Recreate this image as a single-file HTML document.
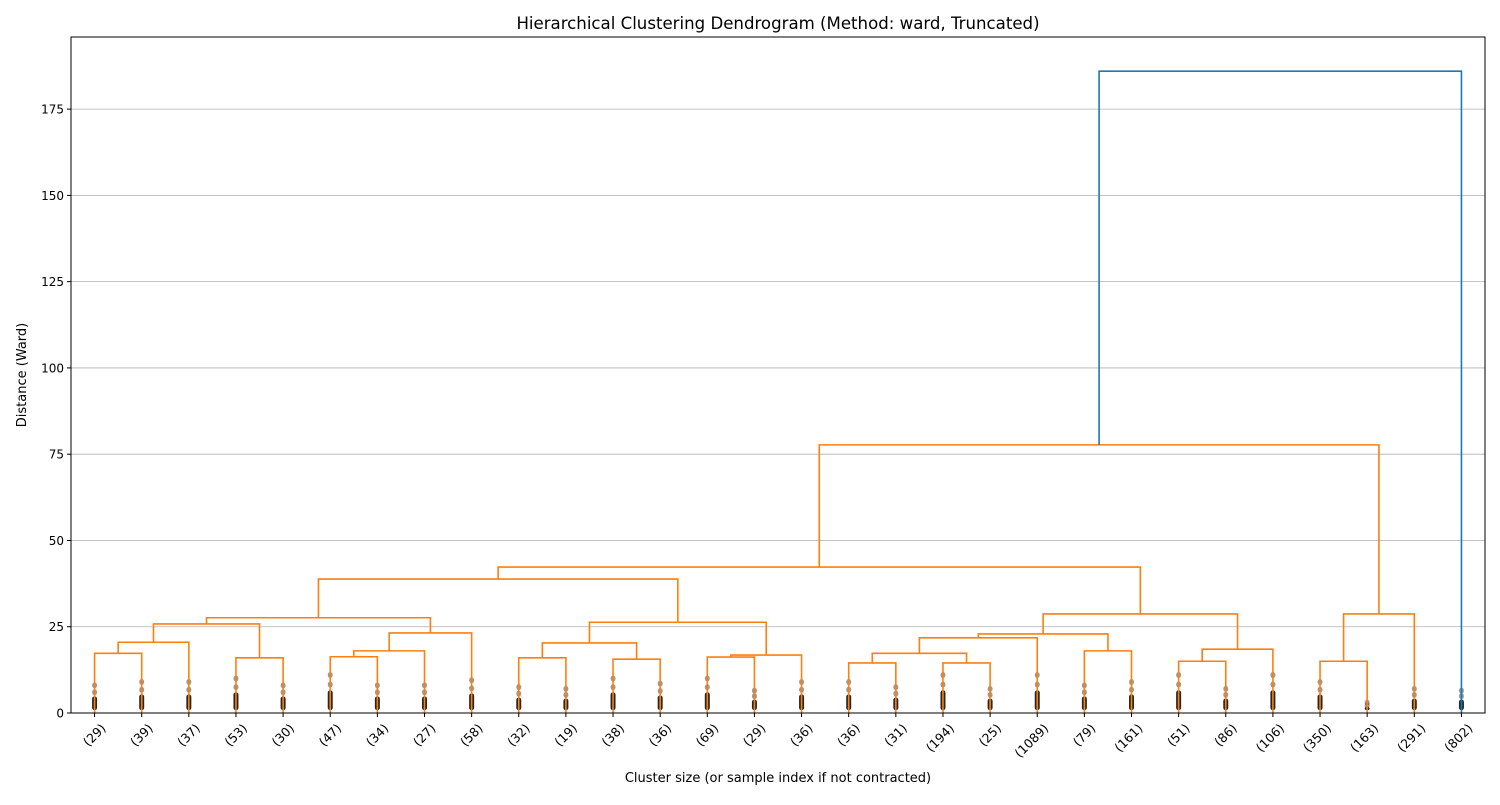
<!DOCTYPE html>
<html><head><meta charset="utf-8"><style>
body{margin:0;background:#fff;font-family:"Liberation Sans","DejaVu Sans",sans-serif;}
svg text{font-family:"DejaVu Sans","Liberation Sans",sans-serif;}
</style></head><body>
<svg id="chart" width="1500" height="800" xmlns="http://www.w3.org/2000/svg">
<text x="778" y="29" font-size="16.6" text-anchor="middle">Hierarchical Clustering Dendrogram (Method: ward, Truncated)</text>
<text x="778" y="782" font-size="13" text-anchor="middle">Cluster size (or sample index if not contracted)</text>
<text transform="translate(26,375) rotate(-90)" font-size="13" text-anchor="middle">Distance (Ward)</text>
<g id="grid"></g><g id="leafmarks"></g><g id="marks"></g><g id="axes"></g>
</svg>
<script>
const leafLabels=["(29)","(39)","(37)","(53)","(30)","(47)","(34)","(27)","(58)","(32)","(19)","(38)","(36)","(69)","(29)","(36)","(36)","(31)","(194)","(25)","(1089)","(79)","(161)","(51)","(86)","(106)","(350)","(163)","(291)","(802)"];
const leafMarkerMax=[8,9,9,10,8,11,8,8,9.5,7.5,7,10,8.5,10,6.5,9,9,7.5,11,7,11,8,9,11,7,11,9,3,7,6.5];
const mergeLeft=[0,30,3,31,5,34,35,33,9,11,38,13,41,40,37,16,18,45,47,21,48,23,51,50,44,26,55,54,57];
const mergeRight=[1,2,4,32,6,7,8,36,10,12,39,14,15,42,43,17,19,46,20,22,49,24,25,52,53,27,28,56,29];
const mergeHeight=[17.3,20.5,16.0,25.8,16.3,18.0,23.2,27.6,16.0,15.6,20.3,16.2,16.8,26.3,38.8,14.5,14.5,17.3,21.8,18.0,22.9,15.0,18.5,28.7,42.3,15.0,28.7,77.7,186.0];
const yTicks=[0,25,50,75,100,125,150,175];

const L=71,R=1485,T=37,B=713,YMAX=195.9;
const NS="http://www.w3.org/2000/svg";
const n=leafLabels.length;
const xs=i=>L+(10*i+5)*(R-L)/(10*n);
const ys=v=>B-v*(B-T)/YMAX;
function mk(tag,attrs,parent){const e=document.createElementNS(NS,tag);for(const k in attrs)e.setAttribute(k,attrs[k]);parent.appendChild(e);return e;}
const grid=document.getElementById('grid'),marks=document.getElementById('marks'),axes=document.getElementById('axes'),lm=document.getElementById('leafmarks');
yTicks.forEach(t=>{
 const g=mk('line',{x1:L,x2:R,y1:ys(t),y2:ys(t),stroke:'#b0b0b0','stroke-width':0.8},grid);
 
 
 const tk=mk('line',{x1:L-4,x2:L,y1:ys(t),y2:ys(t),stroke:'#000'},axes);
 
 
 const tx=mk('text',{x:L-7,y:ys(t)+4.5,'font-size':12,'text-anchor':'end'},axes);
 tx.textContent=t;
 
 
});
const nx=[],nh=[];
for(let i=0;i<n;i++){nx.push(xs(i));nh.push(0);}
const last=mergeLeft.length-1;
mergeLeft.forEach((a,k)=>{
 const b=mergeRight[k],h=mergeHeight[k];
 const col=(k===last)?'#1f77b4':'#ff7f0e';
 const p=mk('path',{d:`M${nx[a]},${ys(nh[a])}V${ys(h)}H${nx[b]}V${ys(nh[b])}`,fill:'none',stroke:col,'stroke-width':1.6},marks);
 
 
 nx.push((nx[a]+nx[b])/2);nh.push(h);
});
leafLabels.forEach((lab,i)=>{
 const x=xs(i),m=leafMarkerMax[i];
 const blk=mk('rect',{x:x-2.5,y:ys(m*0.6),width:5,height:ys(0.8)-ys(m*0.6),rx:2.5,fill:'#000',opacity:0.85},lm);
 
 
 [m*0.75,m].forEach(v=>{
  const c=mk('ellipse',{cx:x,cy:ys(v),rx:2.5,ry:3,fill:'#555',opacity:0.6},lm);
  
  
 });
 const tk=mk('line',{x1:x,x2:x,y1:B,y2:B+4,stroke:'#000'},axes);
 
 
 const t=mk('text',{transform:`translate(${x+12},${B+16}) rotate(-45)`,'font-size':12.5,'text-anchor':'end'},axes);
 t.textContent=lab;
 
 
});
const fr=mk('rect',{x:L,y:T,width:R-L,height:B-T,fill:'none',stroke:'#000','stroke-width':1},axes);


</script>
</body></html>
